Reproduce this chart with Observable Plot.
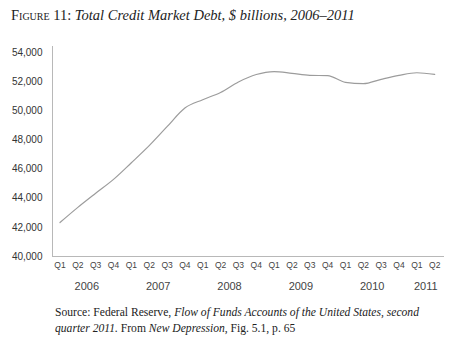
<!DOCTYPE html>
<html><head><meta charset="utf-8">
<script src="https://cdn.jsdelivr.net/npm/d3@7"></script>
<script src="https://cdn.jsdelivr.net/npm/@observablehq/plot@0.6"></script>
<style>
body{margin:0;background:#fff;width:450px;height:350px;overflow:hidden;position:relative}
#title{position:absolute;left:11px;top:7px;font-family:"Liberation Serif",serif;font-size:14.5px;color:#222;white-space:nowrap}
#title .sc{font-variant:small-caps}
#chart{position:absolute;left:0;top:30px}
#caption{position:absolute;left:55px;top:305px;font-family:"Liberation Serif",serif;font-size:11.6px;line-height:16px;color:#222;white-space:nowrap}
</style></head><body>
<div id="title"><span class="sc">Figure 11:</span> <i>Total Credit Market Debt, $ billions, 2006–2011</i></div>
<div id="chart"></div>
<div id="caption">Source: Federal Reserve, <i>Flow of Funds Accounts of the United States, second<br>quarter 2011.</i> From <i>New Depression</i>, Fig. 5.1, p. 65</div>
<script>
const periods = ["2006 Q1","2006 Q2","2006 Q3","2006 Q4","2007 Q1","2007 Q2","2007 Q3","2007 Q4",
  "2008 Q1","2008 Q2","2008 Q3","2008 Q4","2009 Q1","2009 Q2","2009 Q3","2009 Q4",
  "2010 Q1","2010 Q2","2010 Q3","2010 Q4","2011 Q1","2011 Q2"];
const debt = [42330, 43370, 44340, 45290, 46430, 47600, 48900, 50180,
  50750, 51250, 51970, 52480, 52680, 52560, 52420, 52400,
  51940, 51850, 52150, 52420, 52600, 52490];
const years = [2006, 2007, 2008, 2009, 2010, 2011];
const yTicks = [40000, 42000, 44000, 46000, 48000, 50000, 52000, 54000];

const data = periods.map((p, i) => ({i, year: +p.slice(0, 4), q: p.slice(5), value: debt[i]}));
const yearData = years.map(y => ({year: String(y), x: d3.mean(data.filter(d => d.year === y), d => d.i)}));
const xDomain = [-0.42, 21.55];
const yDomain = [40000, 54400];

const plot = Plot.plot({
  width: 450, height: 275,
  marginLeft: 52, marginRight: 6, marginTop: 16, marginBottom: 49,
  style: {fontFamily: "'Liberation Sans', sans-serif", color: "#333", background: "transparent"},
  x: {domain: xDomain, axis: null},
  y: {domain: yDomain, axis: null},
  marks: [
    Plot.axisY(yTicks, {tickSize: 0, tickPadding: 10, tickFormat: d3.format(","), label: null, fontSize: 10, fill: "#333"}),
    Plot.ruleX([xDomain[0]], {stroke: "#b8b8b8", strokeWidth: 1}),
    Plot.ruleY([yDomain[0]], {stroke: "#b8b8b8", strokeWidth: 1}),
    Plot.line(data, {x: "i", y: "value", stroke: "#9c9c9c", strokeWidth: 1.2, curve: "monotone-x"}),
    Plot.text(data, {x: "i", text: "q", frameAnchor: "bottom", dy: 11, fontSize: 8.5, fill: "#444"}),
    Plot.text(yearData, {x: "x", text: "year", frameAnchor: "bottom", dy: 33, fontSize: 11, fill: "#444", letterSpacing: "0.5px"})
  ]
});
document.getElementById("chart").append(plot);
</script>
</body></html>
